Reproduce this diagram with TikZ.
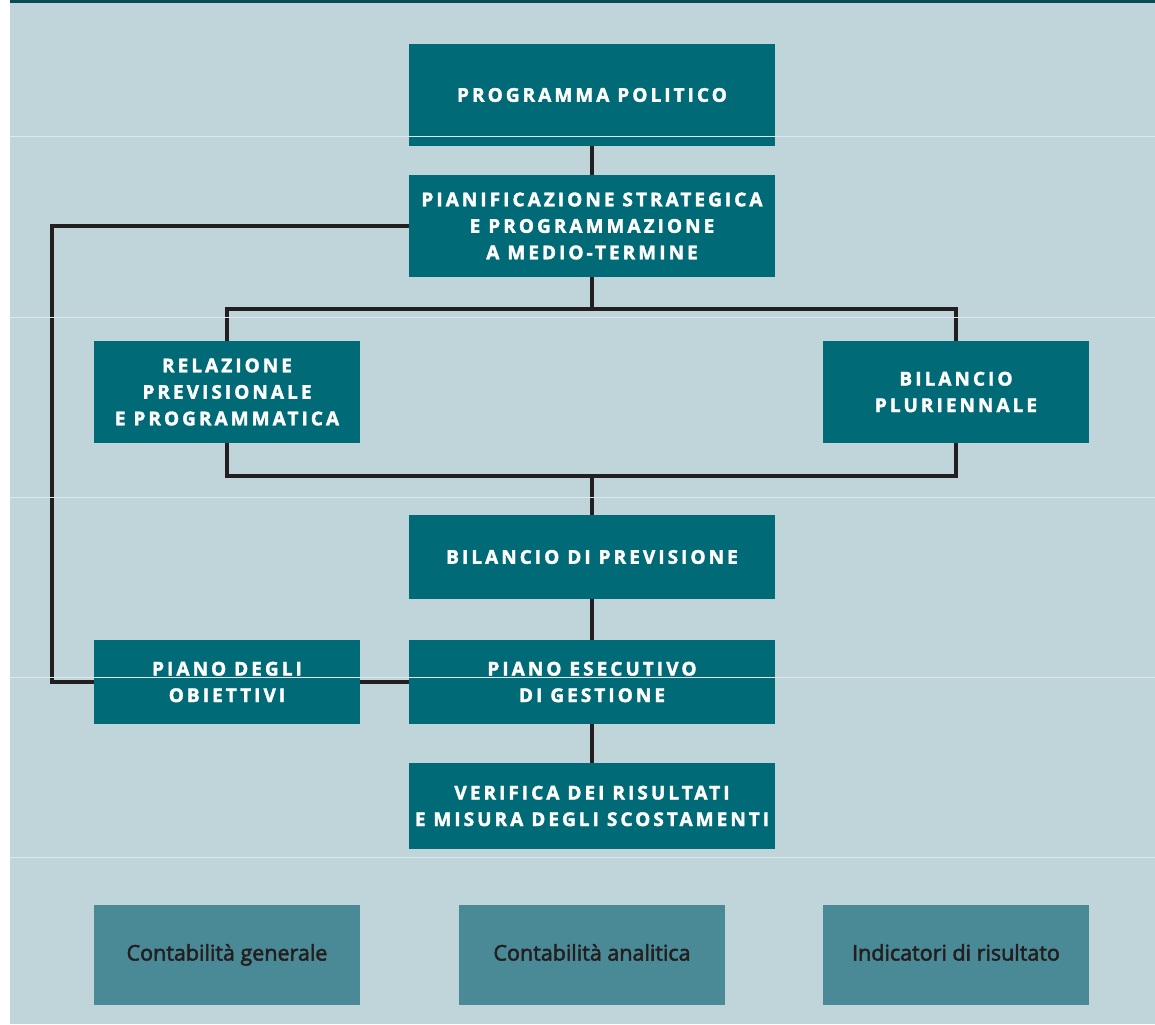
\documentclass[tikz,border=0pt]{standalone}
\usepackage{fontspec}
\newfontfamily\boxfont[LetterSpace=16,FakeBold=2]{Open Sans}
\newfontfamily\lowfont[FakeBold=2.4]{Open Sans}
\definecolor{bg}{HTML}{C0D5DA}
\definecolor{teal}{HTML}{006B77}
\definecolor{lteal}{HTML}{4A8A96}
\definecolor{band}{HTML}{0A4A55}
\definecolor{ink}{HTML}{231F20}
\definecolor{scanline}{HTML}{DCE8EC}
\tikzset{
  box/.style={fill=teal, text=white, inner sep=0pt, align=center,
    minimum width=366pt, minimum height=102pt,
    font=\boxfont\bfseries\fontsize{19}{26.5}\selectfont},
  sbox/.style={box, minimum width=266pt},
  lowbox/.style={fill=lteal, text=ink, inner sep=0pt, align=center,
    minimum width=266pt, minimum height=100pt, text height=16pt, text depth=5pt,
    font=\lowfont\fontsize{21.5}{24}\selectfont},
  conn/.style={draw=ink, line width=4.5pt},
}
\begin{document}
\begin{tikzpicture}[x=1pt,y=-1pt]
\useasboundingbox (0,0) rectangle (1155,1024);
\fill[white] (0,0) rectangle (1155,1024);
\fill[bg] (10,0) rectangle (1155,1024);
\fill[band] (10,0) rectangle (1155,3.5);

\node[box] (pp) at (592,95) {PROGRAMMA POLITICO};
\node[box] (ps) at (592,226) {PIANIFICAZIONE STRATEGICA\\E PROGRAMMAZIONE\\A MEDIO-TERMINE};
\node[sbox] (rp) at (227,392) {RELAZIONE\\PREVISIONALE\\E PROGRAMMATICA};
\node[sbox] (bp) at (956,392) {BILANCIO\\PLURIENNALE};
\node[box, minimum height=84pt] (bdp) at (592,557) {BILANCIO DI PREVISIONE};
\node[sbox, minimum height=84pt] (pdo) at (227,682) {PIANO DEGLI\\OBIETTIVI};
\node[box, minimum height=84pt] (peg) at (592,682) {PIANO ESECUTIVO\\DI GESTIONE};
\node[box, minimum height=86pt] (vr) at (592,806) {VERIFICA DEI RISULTATI\\E MISURA DEGLI SCOSTAMENTI};

\node[lowbox] (c1) at (227,955) {Contabilità generale};
\node[lowbox] (c2) at (592,955) {Contabilità analitica};
\node[lowbox] (c3) at (956,955) {Indicatori di risultato};

\coordinate (j1) at (592,309);
\coordinate (j2) at (592,476);
\coordinate (lx) at (52,226);

\draw[conn] (pp.south) -- (ps.north);
\draw[conn] (ps.south) -- (j1);
\draw[conn] (rp.north) |- (j1) -| (bp.north);
\draw[conn] (rp.south) |- (j2) -| (bp.south);
\draw[conn] (j2) -- (bdp.north);
\draw[conn] (ps.west) -- (lx) |- (pdo.west);
\draw[conn] (pdo.east) -- (peg.west);
\draw[conn] (bdp.south) -- (peg.north);
\draw[conn] (peg.south) -- (vr.north);

\foreach \yy in {137,317,497,677,857}
  \draw[scanline, line width=1pt] (10,\yy) -- (1155,\yy);
\end{tikzpicture}
\end{document}
